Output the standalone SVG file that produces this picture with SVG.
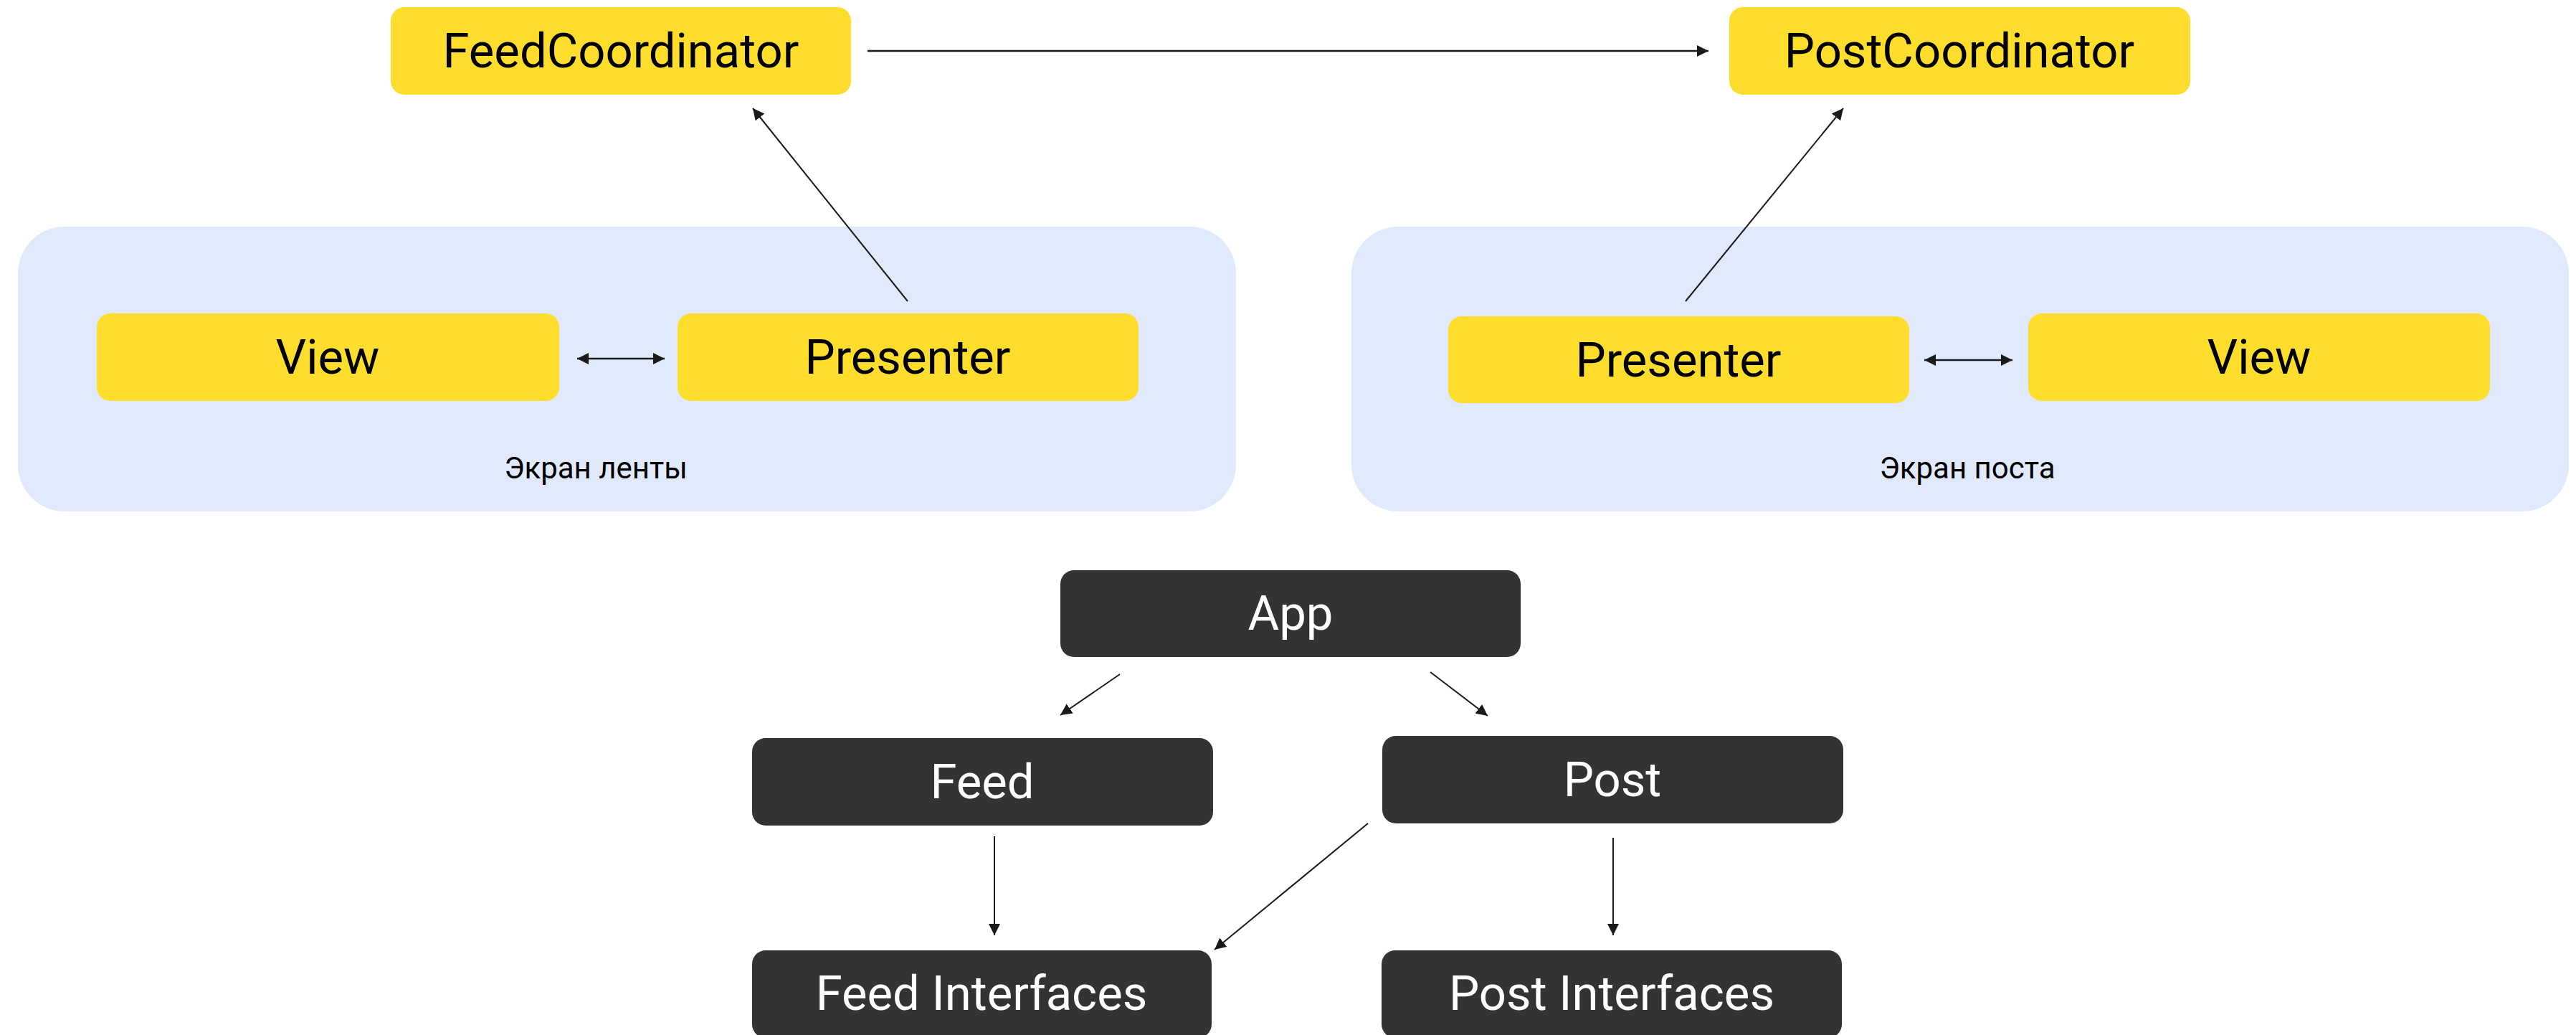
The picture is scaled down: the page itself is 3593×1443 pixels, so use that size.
<svg xmlns="http://www.w3.org/2000/svg" width="3593" height="1443" viewBox="0 0 3593 1443">
<defs>
<style>
.bg{fill:#ffffff}
.screen{fill:#E1EAFC}
.y{fill:#FFDD2D}
.d{fill:#333333}
.t{font-family:Roboto,"Liberation Sans",sans-serif;font-size:67px;text-anchor:middle}
.tb{fill:#000000}
.tw{fill:#ffffff}
.lbl{font-family:Roboto,"Liberation Sans",sans-serif;font-size:42px;text-anchor:middle;fill:#000000}
.c{stroke:#1a1a1a;stroke-width:2;fill:none;marker-end:url(#ah)}
.c2{stroke:#1a1a1a;stroke-width:2.5;fill:none;marker-end:url(#ah);marker-start:url(#ah)}
</style>
<marker id="ah" viewBox="0 0 16 16" refX="16" refY="8" markerWidth="16" markerHeight="16" markerUnits="userSpaceOnUse" orient="auto-start-reverse">
<path d="M0,0 L16,8 L0,16 z" fill="#1a1a1a"/>
</marker>
</defs>
<rect class="bg" x="0" y="0" width="3593" height="1443"/>

<g id="screen-feed">
<rect class="screen" x="25" y="316" width="1699" height="397" rx="65"/>
<text class="lbl" x="831" y="667">Экран ленты</text>
</g>
<g id="screen-post">
<rect class="screen" x="1885" y="316" width="1698" height="397" rx="65"/>
<text class="lbl" x="2744" y="667">Экран поста</text>
</g>

<g id="feed-coordinator">
<rect class="y" x="545" y="10" width="642" height="122" rx="19"/>
<text class="t tb" x="866" y="94">FeedCoordinator</text>
</g>
<g id="post-coordinator">
<rect class="y" x="2412" y="10" width="643" height="122" rx="19"/>
<text class="t tb" x="2733" y="94">PostCoordinator</text>
</g>
<g id="feed-view">
<rect class="y" x="135" y="437" width="645" height="122" rx="19"/>
<text class="t tb" x="457" y="521">View</text>
</g>
<g id="feed-presenter">
<rect class="y" x="945" y="437" width="643" height="122" rx="19"/>
<text class="t tb" x="1266" y="521">Presenter</text>
</g>
<g id="post-presenter">
<rect class="y" x="2020" y="441" width="643" height="121" rx="19"/>
<text class="t tb" x="2341" y="525">Presenter</text>
</g>
<g id="post-view">
<rect class="y" x="2829" y="437" width="644" height="122" rx="19"/>
<text class="t tb" x="3151" y="521">View</text>
</g>

<g id="app">
<rect class="d" x="1479" y="795" width="642" height="121" rx="19"/>
<text class="t tw" x="1800" y="878">App</text>
</g>
<g id="feed">
<rect class="d" x="1049" y="1029" width="643" height="122" rx="19"/>
<text class="t tw" x="1370" y="1113">Feed</text>
</g>
<g id="post">
<rect class="d" x="1928" y="1026" width="643" height="122" rx="19"/>
<text class="t tw" x="2249" y="1110">Post</text>
</g>
<g id="feed-interfaces">
<rect class="d" x="1049" y="1325" width="641" height="122" rx="19"/>
<text class="t tw" x="1369" y="1408">Feed Interfaces</text>
</g>
<g id="post-interfaces">
<rect class="d" x="1927" y="1325" width="642" height="122" rx="19"/>
<text class="t tw" x="2248" y="1408">Post Interfaces</text>
</g>

<g id="connectors">
<line class="c" x1="1210" y1="71" x2="2383" y2="71" style="stroke-width:2.5"/>
<line class="c" x1="1266" y1="420" x2="1050" y2="151"/>
<line class="c" x1="2351" y1="420" x2="2571" y2="151"/>
<line class="c2" x1="805" y1="500" x2="927" y2="500"/>
<line class="c2" x1="2684" y1="502" x2="2807" y2="502"/>
<line class="c" x1="1562" y1="940" x2="1479" y2="997"/>
<line class="c" x1="1995" y1="937" x2="2075" y2="998"/>
<line class="c" x1="1387" y1="1166" x2="1387" y2="1304"/>
<line class="c" x1="1908" y1="1148" x2="1694" y2="1324"/>
<line class="c" x1="2250" y1="1168" x2="2250" y2="1304"/>
</g>
</svg>
